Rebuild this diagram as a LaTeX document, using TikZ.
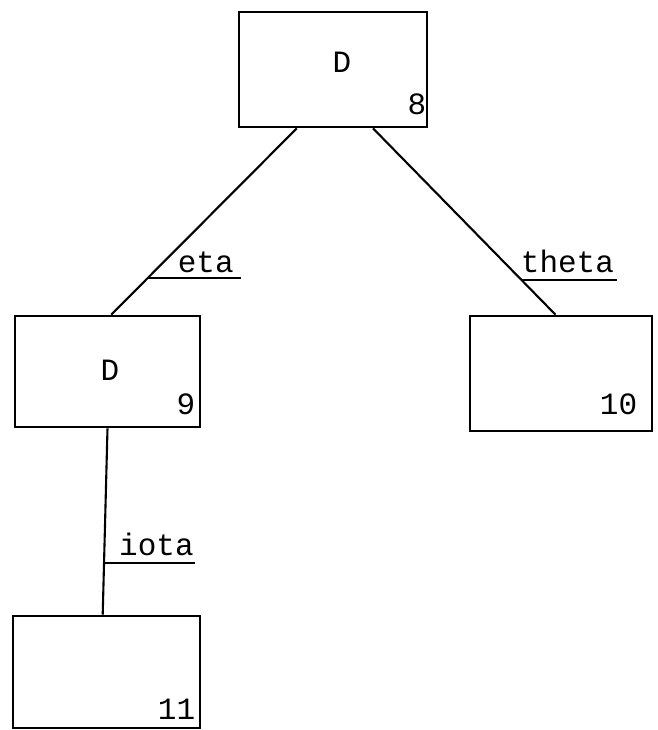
\documentclass[tikz,border=0pt]{standalone}
\usepackage{fontspec}
\setmonofont{Liberation Mono}
\usetikzlibrary{calc}
\begin{document}
\begin{tikzpicture}[x=1pt,y=-1pt,
  box/.style={draw, rectangle, line width=2.7pt, inner sep=0pt},
  conn/.style={line width=2.1pt},
  lbl/.style={font=\ttfamily\fontsize{31}{31}\selectfont, inner sep=0pt}]
\useasboundingbox (0,0) rectangle (657,730);
% boxes
\node[box, minimum width=188pt, minimum height=115pt] (n8) at (333,69.5) {};
\node[box, minimum width=185pt, minimum height=111pt] (n9) at (107.5,371.5) {};
\node[box, minimum width=182pt, minimum height=115pt] (n10) at (561,373.5) {};
\node[box, minimum width=187pt, minimum height=112pt] (n11) at (106.5,672) {};
% box texts
\node[lbl, anchor=base] (d8) at (342,73) {D};
\node[lbl, anchor=base] (d9) at (110,380) {D};
\node[lbl, anchor=base east] (l8) at ($(n8.south east)+(-2,-14)$) {8};
\node[lbl, anchor=base east] (l9) at ($(n9.south east)+(-6,-14)$) {9};
\node[lbl, anchor=base east] (l10) at ($(n10.south east)+(-16,-18)$) {10};
\node[lbl, anchor=base east] (l11) at ($(n11.south east)+(-6,-10)$) {11};
% connectors
\draw[conn] ($(n8.south west)!0.31!(n8.south east)$) -- coordinate[pos=0.804] (ceta) ($(n9.north west)!0.52!(n9.north east)$);
\draw[conn] ($(n8.south west)!0.71!(n8.south east)$) -- coordinate[pos=0.815] (ctheta) ($(n10.north west)!0.47!(n10.north east)$);
\draw[conn] ($(n9.south west)!0.50!(n9.south east)$) -- coordinate[pos=0.725] (ciota) ($(n11.north west)!0.48!(n11.north east)$);
% label underlines
\draw[conn] (ceta) -- ++(93,0);
\draw[conn] (ctheta) -- ++(95,0);
\draw[conn] (ciota) -- ++(91,0);
% labels
\node[lbl, anchor=base west] (teta) at ($(ceta)+(30,-6)$) {eta};
\node[lbl, anchor=base west] (ttheta) at ($(ctheta)+(-1,-8)$) {theta};
\node[lbl, anchor=base west] (tiota) at ($(ciota)+(15,-8)$) {iota};
\end{tikzpicture}
\end{document}
